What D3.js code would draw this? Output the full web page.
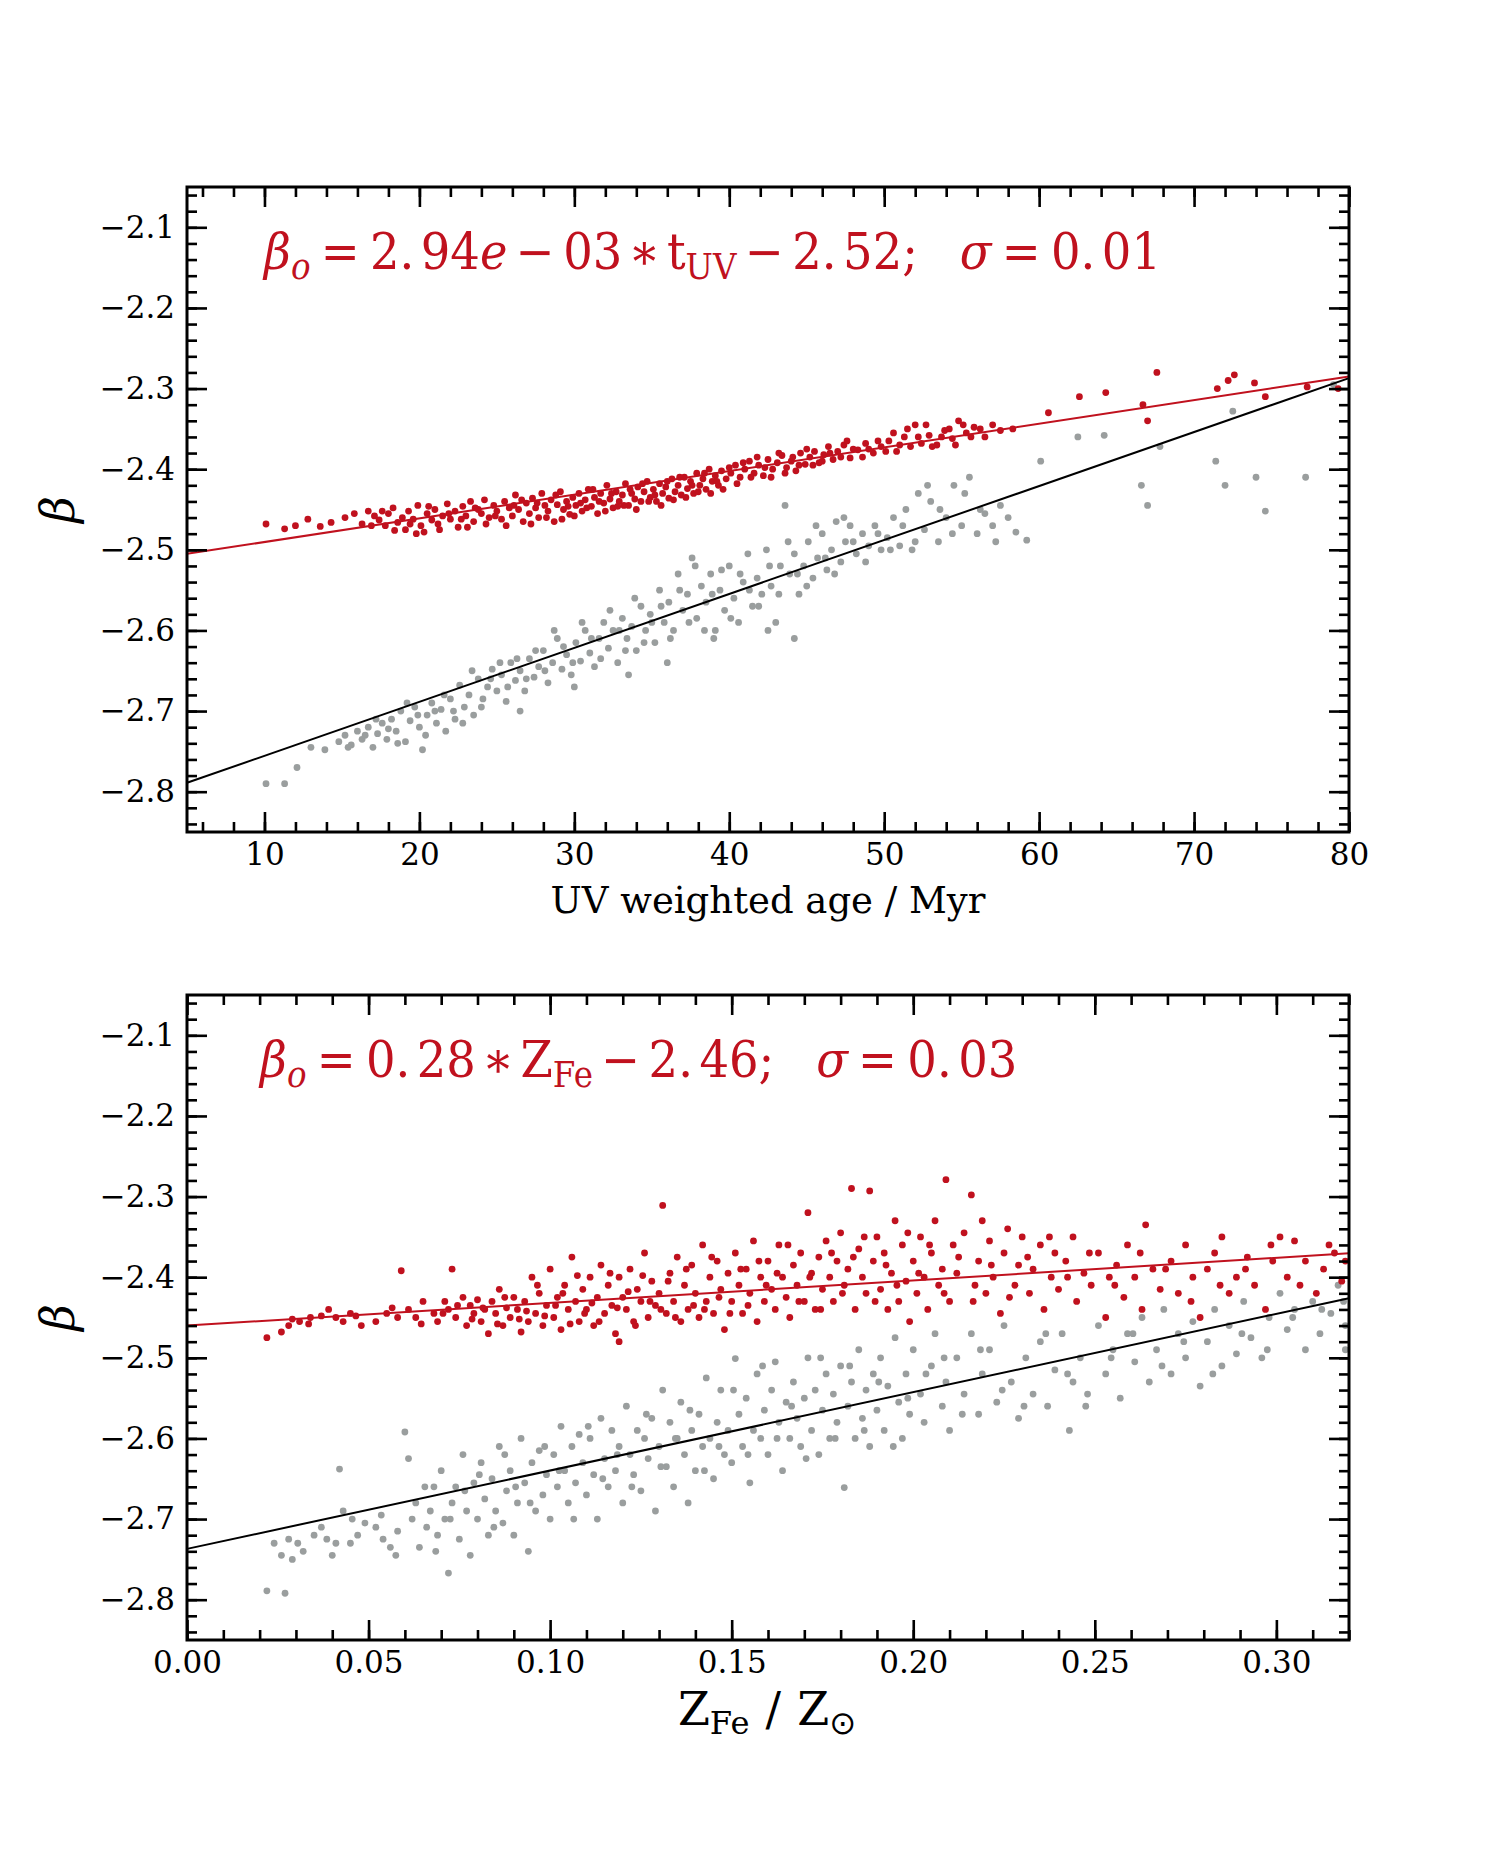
<!DOCTYPE html>
<html><head><meta charset="utf-8">
<script src="https://cdn.jsdelivr.net/npm/d3@7"></script>
<style>body{margin:0;background:#fff} svg{display:block}</style>
</head><body><div id="chart"></div>
<script>
// ---------------- DATA ----------------
const yTicks = [-2.1,-2.2,-2.3,-2.4,-2.5,-2.6,-2.7,-2.8];
const topXTicks = [10,20,30,40,50,60,70,80];
const botXTicks = [0,0.05,0.10,0.15,0.20,0.25,0.30];

// top panel: beta vs UV weighted age (Myr)
const topRed = [[10.1,-2.468],[11.3,-2.474],[12.0,-2.47],[12.8,-2.462],[13.6,-2.471],[14.3,-2.466],[15.2,-2.46],[15.8,-2.455],[16.3,-2.468],[16.7,-2.452],
[17.1,-2.458],[17.4,-2.463],[17.8,-2.47],[18.0,-2.455],[18.3,-2.448],[18.6,-2.466],[18.9,-2.46],[19.1,-2.475],[19.3,-2.452],[19.6,-2.462],[19.9,-2.445],[20.1,-2.47],[20.3,-2.478],[20.5,-2.455],[20.8,-2.463],
[21.0,-2.45],[21.2,-2.468],[21.5,-2.458],[21.8,-2.443],[22.0,-2.462],[22.3,-2.452],[22.5,-2.472],[22.8,-2.446],[23.0,-2.458],[23.3,-2.44],[23.5,-2.465],[23.8,-2.45],[24.0,-2.455],[24.2,-2.438],[24.5,-2.46],[24.8,-2.445],[25.0,-2.452],
[25.3,-2.462],[25.5,-2.44],[25.8,-2.448],[26.0,-2.458],[26.2,-2.432],[26.4,-2.45],[26.7,-2.465],[26.9,-2.442],[27.1,-2.455],[27.3,-2.436],[27.5,-2.448],[27.7,-2.46],[27.9,-2.43],[28.1,-2.445],[28.3,-2.452],[28.5,-2.438],[28.7,-2.465],[28.9,-2.444],[29.1,-2.428],[29.3,-2.45],[29.5,-2.44],[29.7,-2.456],[29.9,-2.435],
[30.1,-2.445],[30.3,-2.43],[30.5,-2.452],[30.7,-2.438],[30.9,-2.425],[31.1,-2.446],[31.3,-2.435],[31.5,-2.455],[31.7,-2.43],[31.9,-2.442],[32.1,-2.42],[32.3,-2.437],[32.5,-2.448],[32.7,-2.428],[32.9,-2.44],[33.1,-2.432],[33.3,-2.418],[33.5,-2.445],[33.7,-2.43],[33.9,-2.437],[34.1,-2.422],[34.3,-2.44],[34.5,-2.428],[34.7,-2.415],[34.9,-2.435],
[35.1,-2.425],[35.3,-2.44],[35.5,-2.418],[35.7,-2.43],[35.9,-2.422],[36.1,-2.436],[36.3,-2.412],[36.5,-2.428],[36.7,-2.42],[36.9,-2.432],[37.1,-2.41],[37.3,-2.424],[37.5,-2.415],[37.7,-2.43],[37.9,-2.405],[38.1,-2.42],[38.3,-2.412],[38.5,-2.425],[38.7,-2.4],[38.9,-2.415],[39.1,-2.408],[39.3,-2.42],[39.5,-2.402],[39.8,-2.412],
[40.1,-2.405],[40.4,-2.395],[40.7,-2.41],[41.0,-2.4],[41.3,-2.39],[41.6,-2.405],[41.9,-2.395],[42.2,-2.408],[42.5,-2.388],[42.8,-2.4],[43.1,-2.392],[43.4,-2.383],[43.7,-2.398],[44.0,-2.39],[44.3,-2.402],[44.6,-2.38],[44.9,-2.394],
[45.2,-2.385],[45.5,-2.378],[45.8,-2.392],[46.1,-2.382],[46.4,-2.372],[46.7,-2.388],[47.0,-2.378],[47.4,-2.37],[47.8,-2.386],[48.3,-2.376],[48.8,-2.368],[49.3,-2.38],[49.8,-2.372],
[50.3,-2.365],[50.8,-2.378],[51.3,-2.36],[51.7,-2.372],[52.0,-2.345],[52.4,-2.368],[52.9,-2.358],[53.4,-2.37],[53.9,-2.352],[54.4,-2.362],[54.8,-2.34],[55.3,-2.355],[55.8,-2.348],
[56.5,-2.36],[57.5,-2.352],[58.3,-2.35],[60.6,-2.33],[62.6,-2.31],[64.3,-2.305],[66.7,-2.32],[67.0,-2.34],[67.6,-2.28],[71.5,-2.3],[72.2,-2.29],[72.6,-2.283],[73.9,-2.293],[74.6,-2.31],[77.3,-2.298],[79.3,-2.3],
[16.9,-2.47],[17.6,-2.452],[18.4,-2.476],[19.4,-2.468],[19.8,-2.48],[20.6,-2.446],[21.3,-2.475],[21.9,-2.455],[22.7,-2.462],[23.1,-2.472],[23.6,-2.448],[24.3,-2.468],[24.9,-2.458],[25.6,-2.47],[26.1,-2.445],[26.6,-2.438],[27.2,-2.468],[27.6,-2.442],[28.2,-2.46],[28.8,-2.432],[29.2,-2.462],[29.6,-2.446],[30.0,-2.458],[30.4,-2.442],[30.8,-2.448],[31.2,-2.425],[31.6,-2.44],[32.0,-2.452],[32.4,-2.43],[32.8,-2.446],[33.2,-2.445],[33.6,-2.425],[34.0,-2.45],[34.4,-2.418],[34.8,-2.44],[35.2,-2.432],[35.6,-2.445],[36.0,-2.415],[36.4,-2.438],[36.8,-2.41],[37.2,-2.435],[37.6,-2.42],[38.0,-2.428],[38.4,-2.405],[38.8,-2.43],[39.2,-2.415],[39.6,-2.425],[40.0,-2.398],[40.5,-2.418],[40.9,-2.392],[41.4,-2.41],[41.8,-2.385],[42.3,-2.398],[42.7,-2.41],[43.2,-2.38],[43.6,-2.405],[44.1,-2.385],[44.5,-2.395],[45.0,-2.375],[45.4,-2.395],[46.0,-2.39],[46.5,-2.38],[47.2,-2.385],[47.6,-2.365],[48.0,-2.375],[48.6,-2.385],[49.0,-2.375],[49.6,-2.365],[50.1,-2.378],[50.6,-2.355],[51.0,-2.37],[51.5,-2.35],[52.2,-2.36],[52.7,-2.345],[53.1,-2.372],[53.7,-2.36],[54.2,-2.35],[54.6,-2.37],[55.1,-2.345],[55.6,-2.36],[56.2,-2.35],[57.0,-2.345]];

const topGray = [[10.1,-2.79],[11.3,-2.79],[12.1,-2.77],[13.0,-2.745],[13.9,-2.748],[14.8,-2.738],[15.2,-2.73],[15.6,-2.742],[16.0,-2.725],[16.3,-2.735],[16.7,-2.72],[17.0,-2.745],[17.3,-2.728],[17.6,-2.715],[17.9,-2.735],[18.2,-2.71],[18.5,-2.725],[18.8,-2.7],[19.1,-2.738],[19.4,-2.712],[19.7,-2.695],[20.0,-2.72],[20.2,-2.748],[20.5,-2.705],[20.8,-2.69],
[21.1,-2.715],[21.4,-2.698],[21.7,-2.725],[22.0,-2.685],[22.3,-2.71],[22.6,-2.668],[22.9,-2.695],[23.2,-2.68],[23.5,-2.705],[23.8,-2.66],[24.1,-2.685],[24.4,-2.67],[24.7,-2.648],[25.0,-2.675],[25.3,-2.655],[25.6,-2.688],[25.9,-2.64],[26.2,-2.662],[26.5,-2.65],[26.5,-2.7],[26.8,-2.675],[27.1,-2.635],[27.4,-2.658],[27.7,-2.645],[28.0,-2.625],[28.3,-2.665],[28.6,-2.64],[28.9,-2.61],[29.2,-2.648],[29.5,-2.63],[29.8,-2.655],
[30.0,-2.67],[30.1,-2.615],[30.4,-2.638],[30.7,-2.6],[31.0,-2.628],[31.3,-2.645],[31.6,-2.61],[31.9,-2.59],[32.2,-2.622],[32.5,-2.6],[32.8,-2.64],[33.1,-2.585],[33.4,-2.61],[33.5,-2.655],[33.7,-2.595],[34.0,-2.625],[34.3,-2.57],[34.6,-2.6],[34.9,-2.58],[35.2,-2.615],[35.5,-2.55],[35.8,-2.59],[36.0,-2.64],[36.1,-2.565],[36.4,-2.6],[36.7,-2.53],[37.0,-2.575],[37.3,-2.555],[37.6,-2.51],[37.9,-2.585],[38.2,-2.545],[38.5,-2.565],[38.8,-2.53],[39.0,-2.61],[39.1,-2.6],[39.4,-2.55],[39.7,-2.575],
[40.0,-2.52],[40.3,-2.56],[40.6,-2.59],[40.9,-2.54],[41.2,-2.505],[41.5,-2.57],[41.8,-2.535],[42.1,-2.555],[42.4,-2.5],[42.5,-2.6],[42.7,-2.545],[43.0,-2.59],[43.3,-2.52],[43.6,-2.445],[43.9,-2.53],[44.2,-2.505],[44.2,-2.61],[44.5,-2.555],[44.8,-2.52],[45.1,-2.49],[45.4,-2.535],[45.7,-2.51],[46.0,-2.48],[46.3,-2.525],[46.6,-2.5],[46.9,-2.465],[47.2,-2.515],[47.5,-2.49],[47.8,-2.47],[48.2,-2.505],[48.6,-2.48],[49.0,-2.495],[49.4,-2.47],[49.8,-2.5],
[50.2,-2.485],[50.6,-2.46],[51.0,-2.495],[51.4,-2.45],[51.8,-2.5],[52.2,-2.43],[52.6,-2.475],[53.0,-2.44],[53.5,-2.49],[54.0,-2.46],[54.5,-2.42],[55.0,-2.47],[55.5,-2.41],[56.0,-2.48],[56.5,-2.455],[57.0,-2.47],[57.5,-2.445],[58.0,-2.46],[58.5,-2.478],[59.2,-2.488],
[60.1,-2.39],[62.5,-2.36],[64.2,-2.358],[66.6,-2.42],[67.0,-2.445],[67.8,-2.372],[71.4,-2.39],[72.0,-2.42],[72.5,-2.328],[74.0,-2.41],[74.6,-2.452],[77.2,-2.41],[79.0,-2.295],
[15.4,-2.745],[16.5,-2.73],[17.2,-2.71],[18.0,-2.722],[18.6,-2.74],[19.2,-2.69],[19.9,-2.705],[20.4,-2.73],[21.0,-2.7],[21.6,-2.68],[22.2,-2.7],[22.8,-2.715],[23.4,-2.65],[24.0,-2.695],[24.6,-2.66],[25.2,-2.64],[25.7,-2.67],[26.3,-2.635],[26.9,-2.66],[27.5,-2.625],[28.1,-2.65],[28.7,-2.6],[29.3,-2.62],[29.9,-2.64],[30.5,-2.59],[31.1,-2.61],[31.7,-2.635],[32.3,-2.575],[32.9,-2.6],[33.3,-2.625],[33.9,-2.56],[34.5,-2.615],[35.0,-2.59],[35.6,-2.57],[36.2,-2.61],[36.8,-2.55],[37.4,-2.59],[37.8,-2.52],[38.4,-2.6],[38.9,-2.555],[39.5,-2.525],[40.1,-2.585],[40.7,-2.53],[41.3,-2.55],[41.9,-2.57],[42.6,-2.52],[43.2,-2.555],[43.8,-2.49],[44.4,-2.53],[45.0,-2.545],[45.6,-2.47],[46.2,-2.51],[46.8,-2.53],[47.4,-2.46],[48.0,-2.49],[48.8,-2.515],[49.6,-2.48],[50.4,-2.5],[51.2,-2.47],[52.0,-2.49],[52.8,-2.42],[53.6,-2.45],[54.4,-2.48],[55.2,-2.43],[56.2,-2.45],[57.2,-2.49]];

const topRedFit = [[5,-2.505],[80,-2.285]];
const topBlackFit = [[5,-2.789],[80,-2.287]];

// bottom panel: beta vs Z_Fe / Z_sun
const botRed = [[0.022,-2.475],[0.026,-2.468],[0.028,-2.46],[0.029,-2.452],[0.031,-2.455],[0.034,-2.45],[0.037,-2.448],[0.039,-2.44],[0.041,-2.45],[0.043,-2.455],[0.045,-2.445],[0.048,-2.46],[0.052,-2.455],[0.055,-2.445],[0.058,-2.45],[0.059,-2.392],
[0.061,-2.44],[0.063,-2.45],[0.065,-2.43],[0.068,-2.445],[0.069,-2.455],[0.071,-2.43],[0.072,-2.44],[0.073,-2.39],[0.074,-2.45],[0.076,-2.425],[0.077,-2.46],[0.078,-2.435],[0.079,-2.445],
[0.080,-2.428],[0.081,-2.455],[0.082,-2.44],[0.083,-2.47],[0.084,-2.43],[0.085,-2.445],[0.086,-2.415],[0.087,-2.46],[0.088,-2.438],[0.089,-2.45],
[0.090,-2.425],[0.091,-2.44],[0.092,-2.468],[0.093,-2.43],[0.094,-2.455],[0.095,-2.4],[0.096,-2.445],[0.097,-2.42],[0.098,-2.46],[0.099,-2.435],
[0.100,-2.39],[0.101,-2.45],[0.102,-2.425],[0.103,-2.465],[0.104,-2.41],[0.105,-2.44],[0.106,-2.375],[0.107,-2.43],[0.108,-2.455],[0.109,-2.415],
[0.110,-2.44],[0.111,-2.4],[0.112,-2.46],[0.113,-2.425],[0.114,-2.385],[0.115,-2.445],[0.116,-2.41],[0.117,-2.435],[0.118,-2.47],[0.119,-2.4],[0.119,-2.48],
[0.120,-2.425],[0.121,-2.44],[0.122,-2.39],[0.123,-2.455],[0.124,-2.415],[0.125,-2.43],[0.126,-2.37],[0.127,-2.45],[0.128,-2.405],[0.129,-2.435],
[0.130,-2.42],[0.131,-2.311],[0.132,-2.445],[0.133,-2.395],[0.134,-2.43],[0.135,-2.375],[0.136,-2.455],[0.137,-2.41],[0.138,-2.44],[0.139,-2.385],
[0.140,-2.42],[0.141,-2.45],[0.142,-2.36],[0.143,-2.43],[0.144,-2.4],[0.145,-2.445],[0.146,-2.38],[0.147,-2.415],[0.148,-2.465],[0.149,-2.395],
[0.150,-2.43],[0.151,-2.37],[0.152,-2.41],[0.153,-2.445],[0.154,-2.39],[0.155,-2.42],[0.156,-2.355],[0.157,-2.455],[0.158,-2.4],[0.159,-2.43],
[0.160,-2.38],[0.161,-2.415],[0.162,-2.44],[0.163,-2.36],[0.164,-2.4],[0.165,-2.425],[0.166,-2.45],[0.167,-2.385],[0.168,-2.41],[0.169,-2.37],
[0.170,-2.43],[0.171,-2.32],[0.172,-2.395],[0.173,-2.44],[0.174,-2.375],[0.175,-2.415],[0.176,-2.355],[0.177,-2.4],[0.178,-2.43],[0.179,-2.38],
[0.180,-2.345],[0.181,-2.41],[0.182,-2.39],[0.183,-2.29],[0.184,-2.44],[0.185,-2.365],[0.186,-2.4],[0.187,-2.42],[0.188,-2.293],[0.189,-2.38],
[0.190,-2.35],[0.191,-2.415],[0.192,-2.37],[0.193,-2.44],[0.194,-2.395],[0.195,-2.33],[0.196,-2.43],[0.197,-2.36],[0.198,-2.405],[0.199,-2.455],
[0.200,-2.38],[0.201,-2.42],[0.202,-2.35],[0.203,-2.4],[0.204,-2.44],[0.205,-2.37],[0.206,-2.33],[0.207,-2.41],[0.208,-2.39],[0.209,-2.279],
[0.210,-2.43],[0.211,-2.36],[0.212,-2.395],[0.214,-2.345],[0.216,-2.298],[0.217,-2.41],[0.218,-2.38],[0.219,-2.33],
[0.220,-2.42],[0.221,-2.355],[0.222,-2.4],[0.224,-2.445],[0.225,-2.37],[0.226,-2.34],[0.228,-2.41],[0.229,-2.385],
[0.230,-2.35],[0.232,-2.42],[0.233,-2.39],[0.235,-2.36],[0.236,-2.44],[0.238,-2.4],[0.239,-2.37],
[0.240,-2.415],[0.242,-2.38],[0.244,-2.35],[0.245,-2.43],[0.247,-2.395],[0.249,-2.41],
[0.251,-2.37],[0.253,-2.45],[0.254,-2.4],[0.256,-2.385],[0.258,-2.425],[0.259,-2.36],
[0.261,-2.4],[0.263,-2.44],[0.264,-2.335],[0.266,-2.39],[0.268,-2.415],
[0.271,-2.38],[0.273,-2.42],[0.275,-2.36],[0.277,-2.4],[0.279,-2.45],
[0.281,-2.39],[0.283,-2.37],[0.285,-2.35],[0.287,-2.42],[0.289,-2.4],
[0.292,-2.375],[0.294,-2.41],[0.297,-2.44],[0.299,-2.38],
[0.301,-2.35],[0.303,-2.4],[0.305,-2.355],[0.308,-2.38],[0.311,-2.42],[0.313,-2.39],[0.316,-2.37],[0.318,-2.405],[0.319,-2.38],
[0.0335,-2.458],[0.0465,-2.448],[0.0565,-2.438],[0.0645,-2.458],[0.0705,-2.445],[0.0745,-2.435],[0.0785,-2.452],[0.0815,-2.438],[0.0855,-2.458],[0.0875,-2.425],[0.0915,-2.452],[0.0935,-2.442],[0.0965,-2.41],[0.0985,-2.448],[0.1015,-2.435],[0.1035,-2.42],[0.1055,-2.458],[0.1075,-2.398],[0.1095,-2.445],[0.1115,-2.432],[0.1135,-2.455],[0.1165,-2.395],[0.1185,-2.438],[0.1215,-2.418],[0.1235,-2.46],[0.1255,-2.398],[0.1275,-2.43],[0.1305,-2.44],[0.1325,-2.405],[0.1345,-2.45],[0.1375,-2.39],[0.1395,-2.435],[0.1425,-2.44],[0.1445,-2.375],[0.1465,-2.425],[0.1495,-2.445],[0.1525,-2.39],[0.1545,-2.435],[0.1575,-2.38],[0.1595,-2.41],[0.1625,-2.395],[0.1655,-2.36],[0.1685,-2.43],[0.1715,-2.4],[0.1745,-2.44],[0.1775,-2.37],[0.1805,-2.42],[0.1835,-2.375],[0.1865,-2.35],[0.1895,-2.43],[0.1925,-2.385],[0.1955,-2.41],[0.1985,-2.345],[0.2015,-2.395],[0.2045,-2.36],[0.2085,-2.42],[0.2125,-2.375],[0.2165,-2.43],[0.2215,-2.385],[0.2265,-2.425],[0.2315,-2.375],[0.2375,-2.35],[0.2425,-2.4],[0.2485,-2.37],[0.2555,-2.41],[0.2625,-2.37],[0.2695,-2.39],[0.2765,-2.43],[0.2845,-2.41],[0.2915,-2.39],[0.2985,-2.36],[0.3065,-2.41],[0.3145,-2.36]];

const botGray = [[0.022,-2.789],[0.027,-2.792],[0.024,-2.73],[0.026,-2.745],[0.029,-2.75],[0.028,-2.725],
[0.032,-2.74],[0.035,-2.72],[0.037,-2.71],[0.040,-2.745],[0.041,-2.73],[0.042,-2.638],[0.043,-2.69],[0.045,-2.73],[0.047,-2.72],[0.049,-2.705],
[0.052,-2.71],[0.054,-2.725],[0.056,-2.735],[0.058,-2.715],[0.060,-2.592],[0.061,-2.625],[0.062,-2.7],[0.063,-2.68],[0.064,-2.735],[0.066,-2.71],[0.067,-2.69],[0.068,-2.66],[0.069,-2.72],
[0.070,-2.64],[0.071,-2.7],[0.072,-2.767],[0.073,-2.68],[0.074,-2.66],[0.075,-2.725],[0.076,-2.62],[0.077,-2.69],[0.078,-2.745],[0.079,-2.655],
[0.080,-2.7],[0.081,-2.63],[0.082,-2.675],[0.083,-2.72],[0.084,-2.65],[0.085,-2.69],[0.086,-2.61],[0.087,-2.705],[0.088,-2.665],[0.089,-2.64],
[0.090,-2.72],[0.091,-2.68],[0.092,-2.6],[0.093,-2.655],[0.094,-2.74],[0.095,-2.63],[0.096,-2.69],[0.097,-2.615],[0.098,-2.67],[0.099,-2.645],
[0.100,-2.7],[0.101,-2.62],[0.102,-2.66],[0.103,-2.585],[0.104,-2.64],[0.105,-2.68],[0.106,-2.61],[0.107,-2.655],[0.108,-2.595],[0.109,-2.63],
[0.110,-2.67],[0.111,-2.6],[0.112,-2.645],[0.113,-2.7],[0.114,-2.575],[0.115,-2.625],[0.116,-2.66],[0.117,-2.59],[0.118,-2.64],[0.119,-2.61],
[0.120,-2.68],[0.121,-2.56],[0.122,-2.62],[0.123,-2.645],[0.124,-2.59],[0.125,-2.665],[0.126,-2.6],[0.127,-2.625],[0.128,-2.575],[0.129,-2.69],
[0.130,-2.61],[0.131,-2.54],[0.132,-2.635],[0.133,-2.58],[0.134,-2.66],[0.135,-2.6],[0.136,-2.555],[0.137,-2.62],[0.138,-2.68],[0.139,-2.59],
[0.140,-2.64],[0.141,-2.57],[0.142,-2.61],[0.143,-2.525],[0.144,-2.6],[0.145,-2.65],[0.146,-2.58],[0.147,-2.54],[0.148,-2.62],[0.149,-2.59],
[0.150,-2.63],[0.151,-2.501],[0.152,-2.57],[0.153,-2.61],[0.154,-2.55],[0.155,-2.655],[0.156,-2.59],[0.157,-2.52],[0.158,-2.6],[0.159,-2.565],
[0.160,-2.62],[0.161,-2.54],[0.162,-2.505],[0.163,-2.58],[0.164,-2.64],[0.165,-2.555],[0.166,-2.6],[0.167,-2.53],[0.168,-2.575],[0.169,-2.61],
[0.170,-2.55],[0.171,-2.5],[0.172,-2.59],[0.173,-2.54],[0.174,-2.62],[0.175,-2.565],[0.176,-2.52],[0.177,-2.6],[0.178,-2.545],[0.179,-2.58],
[0.180,-2.51],[0.181,-2.661],[0.182,-2.56],[0.183,-2.53],[0.184,-2.6],[0.185,-2.49],[0.186,-2.575],[0.187,-2.54],[0.188,-2.61],[0.189,-2.52],
[0.190,-2.565],[0.191,-2.5],[0.192,-2.59],[0.193,-2.535],[0.195,-2.475],[0.196,-2.555],[0.197,-2.6],[0.198,-2.52],[0.199,-2.57],
[0.200,-2.49],[0.202,-2.545],[0.203,-2.58],[0.205,-2.51],[0.206,-2.47],[0.208,-2.56],[0.209,-2.53],
[0.210,-2.59],[0.212,-2.5],[0.214,-2.545],[0.216,-2.47],[0.218,-2.57],[0.219,-2.52],
[0.221,-2.49],[0.223,-2.555],[0.225,-2.46],[0.227,-2.53],[0.229,-2.575],
[0.231,-2.5],[0.233,-2.545],[0.235,-2.48],[0.237,-2.56],[0.239,-2.515],
[0.241,-2.47],[0.243,-2.59],[0.244,-2.53],[0.246,-2.5],[0.248,-2.545],
[0.251,-2.46],[0.253,-2.52],[0.255,-2.49],[0.257,-2.55],[0.259,-2.47],
[0.261,-2.505],[0.263,-2.45],[0.265,-2.53],[0.267,-2.49],[0.269,-2.44],
[0.271,-2.52],[0.273,-2.47],[0.275,-2.5],[0.277,-2.455],[0.279,-2.535],
[0.281,-2.48],[0.283,-2.44],[0.285,-2.51],[0.287,-2.46],[0.289,-2.495],
[0.291,-2.43],[0.293,-2.475],[0.296,-2.5],[0.298,-2.45],
[0.301,-2.42],[0.303,-2.465],[0.305,-2.44],[0.308,-2.49],[0.310,-2.43],[0.312,-2.47],[0.315,-2.445],[0.317,-2.41],[0.319,-2.46],[0.319,-2.49],
[0.0305,-2.73],[0.0385,-2.725],[0.0455,-2.7],[0.0535,-2.695],[0.0575,-2.745],[0.0655,-2.66],[0.0685,-2.74],[0.0725,-2.7],[0.0765,-2.665],[0.0805,-2.645],[0.0845,-2.71],[0.0875,-2.62],[0.0905,-2.66],[0.0945,-2.68],[0.0985,-2.61],[0.1025,-2.64],[0.1065,-2.7],[0.1105,-2.585],[0.1145,-2.65],[0.1185,-2.62],[0.1225,-2.66],[0.1265,-2.57],[0.1305,-2.635],[0.1345,-2.6],[0.1385,-2.565],[0.1425,-2.64],[0.1465,-2.61],[0.1505,-2.54],[0.1545,-2.62],[0.1585,-2.51],[0.1625,-2.6],[0.1665,-2.56],[0.1705,-2.625],[0.1745,-2.5],[0.1785,-2.6],[0.1825,-2.51],[0.1865,-2.59],[0.1905,-2.53],[0.1945,-2.61],[0.1985,-2.55],[0.2035,-2.52],[0.2085,-2.5],[0.2135,-2.57],[0.2185,-2.49],[0.2245,-2.54],[0.2305,-2.56],[0.2365,-2.47],[0.2425,-2.52],[0.2475,-2.56],[0.2545,-2.5],[0.2605,-2.47],[0.2685,-2.51],[0.2745,-2.48],[0.2825,-2.52],[0.2905,-2.47],[0.2975,-2.49],[0.3045,-2.45],[0.3125,-2.44],[0.3185,-2.43]];

const botRedFit = [[0,-2.46],[0.32,-2.3704]];
const botBlackFit = [[0,-2.737],[0.32,-2.426]];

// ---------------- DRAWING ----------------
const W = 1500, H = 1875;
const RED = "#c0111e", GRAY = "#9a9e9e";
const SERIF = "'DejaVu Serif', serif";
const svg = d3.select("#chart").append("svg").attr("width", W).attr("height", H)
  .style("font-family", SERIF);

function panel(cfg) {
  const {left, right, top, bottom} = cfg;
  const x = d3.scaleLinear().domain(cfg.xDomain).range([left, right]);
  const y = d3.scaleLinear().domain([-2.85, -2.05]).range([bottom, top]);
  const g = svg.append("g");

  g.append("g").selectAll("circle").data(cfg.gray).join("circle")
    .attr("cx", d => x(d[0])).attr("cy", d => y(d[1])).attr("r", 3.4).attr("fill", GRAY);
  g.append("g").selectAll("circle").data(cfg.red).join("circle")
    .attr("cx", d => x(d[0])).attr("cy", d => y(d[1])).attr("r", 3.4).attr("fill", RED);

  const line = d3.line().x(d => x(d[0])).y(d => y(d[1]));
  g.append("path").datum(cfg.blackFit).attr("d", line).attr("stroke", "#000").attr("stroke-width", 2).attr("fill", "none");
  g.append("path").datum(cfg.redFit).attr("d", line).attr("stroke", RED).attr("stroke-width", 2).attr("fill", "none");

  const styleAxis = (sel) => {
    sel.select(".domain").remove();
    sel.selectAll("line").attr("stroke", "#000").attr("stroke-width", 2.6);
    sel.selectAll("text").attr("fill", "#000").style("font-size", "31px").style("font-family", SERIF);
  };
  const xMinor = d3.range(cfg.minorX[0], cfg.minorX[1] + cfg.minorX[2] / 2, cfg.minorX[2]).filter(v => v >= cfg.xDomain[0] - 1e-9 && v <= cfg.xDomain[1] + 1e-9);
  const yMinor = d3.range(-2.84, -2.05, 0.02);

  g.append("g").attr("transform", `translate(0,${bottom})`)
    .call(d3.axisBottom(x).tickValues(cfg.xTicks).tickFormat(cfg.xFormat).tickSizeInner(-20).tickSizeOuter(0).tickPadding(11))
    .call(styleAxis);
  g.append("g").attr("transform", `translate(0,${bottom})`)
    .call(d3.axisBottom(x).tickValues(xMinor).tickFormat("").tickSizeInner(-10).tickSizeOuter(0)).call(styleAxis);
  g.append("g").attr("transform", `translate(0,${top})`)
    .call(d3.axisTop(x).tickValues(cfg.xTicks).tickFormat("").tickSizeInner(-20).tickSizeOuter(0)).call(styleAxis);
  g.append("g").attr("transform", `translate(0,${top})`)
    .call(d3.axisTop(x).tickValues(xMinor).tickFormat("").tickSizeInner(-10).tickSizeOuter(0)).call(styleAxis);
  g.append("g").attr("transform", `translate(${left},0)`)
    .call(d3.axisLeft(y).tickValues(yTicks).tickFormat(d3.format(".1f")).tickSizeInner(-20).tickSizeOuter(0).tickPadding(12))
    .call(styleAxis);
  g.append("g").attr("transform", `translate(${left},0)`)
    .call(d3.axisLeft(y).tickValues(yMinor).tickFormat("").tickSizeInner(-10).tickSizeOuter(0)).call(styleAxis);
  g.append("g").attr("transform", `translate(${right},0)`)
    .call(d3.axisRight(y).tickValues(yTicks).tickFormat("").tickSizeInner(-20).tickSizeOuter(0)).call(styleAxis);
  g.append("g").attr("transform", `translate(${right},0)`)
    .call(d3.axisRight(y).tickValues(yMinor).tickFormat("").tickSizeInner(-10).tickSizeOuter(0)).call(styleAxis);

  g.append("rect").attr("x", left).attr("y", top).attr("width", right - left).attr("height", bottom - top)
    .attr("fill", "none").attr("stroke", "#000").attr("stroke-width", 3);

  g.append("text").attr("transform", `translate(74,${(top + bottom) / 2}) rotate(-90)`)
    .attr("text-anchor", "middle").style("font-family", SERIF)
    .style("font-style", "italic").style("font-size", "46px").text("β");

  return {x, y, g};
}

// math-like text built from tspans (relative dy so a single text chunk is kept);
// sx = horizontal squeeze to mimic Computer Modern proportions
function mathText(g, x0, y0, F, sx, parts, color, anchor) {
  const wrap = g.append("g").attr("transform", `translate(${x0},${y0}) scale(${sx},1)`);
  const t = wrap.append("text").attr("x", 0).attr("y", 0).attr("fill", color)
    .style("font-family", SERIF).style("font-size", F + "px");
  if (anchor) t.attr("text-anchor", anchor);
  let cur = 0;
  parts.forEach(p => {
    const s = t.append("tspan").text(p.t);
    s.style("font-size", (p.sub ? 0.7 * F : F) + "px");
    const target = p.sub ? 0.2 * F : 0;
    if (target !== cur) { s.attr("dy", target - cur); cur = target; }
    if (p.dx) s.attr("dx", p.dx * F);
    if (p.it) s.style("font-style", "italic");
    if (p.font) s.style("font-family", p.font);
  });
  return t;
}

// ---- top panel
const P1 = panel({left: 187, right: 1349, top: 187, bottom: 832,
  xDomain: [5, 80], xTicks: topXTicks, xFormat: d3.format("d"), minorX: [6, 80, 2],
  red: topRed, gray: topGray, redFit: topRedFit, blackFit: topBlackFit});

P1.g.append("text").attr("x", 768).attr("y", 913).attr("text-anchor", "middle")
  .style("font-size", "37px").text("UV weighted age / Myr");

mathText(P1.g, 264, 269, 50, 0.93, [
  {t: "β", it: true}, {t: "o", it: true, sub: true},
  {t: "=", dx: 0.22}, {t: "2.", dx: 0.22}, {t: "94", dx: 0.14}, {t: "e", it: true},
  {t: "−", dx: 0.18}, {t: "03", dx: 0.18}, {t: "∗", dx: 0.14},
  {t: "t", dx: 0.14}, {t: "UV", sub: true},
  {t: "−", dx: 0.18}, {t: "2.", dx: 0.18}, {t: "52;", dx: 0.14},
  {t: "σ", it: true, dx: 0.9}, {t: "=", dx: 0.22}, {t: "0.", dx: 0.22}, {t: "01", dx: 0.14}
], RED);

// ---- bottom panel
const P2 = panel({left: 187, right: 1349, top: 995, bottom: 1640,
  xDomain: [0, 0.32], xTicks: botXTicks, xFormat: d3.format(".2f"), minorX: [0, 0.32, 0.01],
  red: botRed, gray: botGray, redFit: botRedFit, blackFit: botBlackFit});

mathText(P2.g, 767, 1725, 46, 1.0, [
  {t: "Z"}, {t: "Fe", sub: true}, {t: "/", dx: 0.35}, {t: "Z", dx: 0.35},
  {t: "⊙", sub: true, font: "'DejaVu Sans', sans-serif"}
], "#000", "middle");

mathText(P2.g, 260, 1077, 50, 0.93, [
  {t: "β", it: true}, {t: "o", it: true, sub: true},
  {t: "=", dx: 0.22}, {t: "0.", dx: 0.22}, {t: "28", dx: 0.14},
  {t: "∗", dx: 0.14}, {t: "Z", dx: 0.14}, {t: "Fe", sub: true},
  {t: "−", dx: 0.18}, {t: "2.", dx: 0.18}, {t: "46;", dx: 0.14},
  {t: "σ", it: true, dx: 0.9}, {t: "=", dx: 0.22}, {t: "0.", dx: 0.22}, {t: "03", dx: 0.14}
], RED);
</script>
</body></html>
